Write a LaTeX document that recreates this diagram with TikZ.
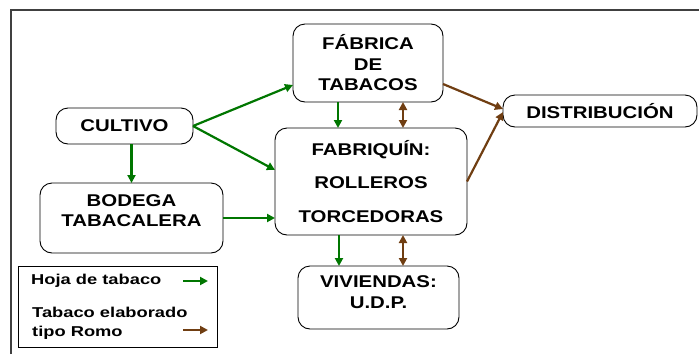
\documentclass[tikz,border=0pt]{standalone}
\usepackage{fontspec}
\usetikzlibrary{arrows.meta}
\newfontfamily\diagfont{Liberation Sans}[FakeStretch=1.2]
\newfontfamily\leyfont{Liberation Sans}[FakeStretch=1.28]
\definecolor{hojagreen}{RGB}{0,118,0}
\definecolor{romobrown}{RGB}{112,62,18}
\begin{document}
\begin{tikzpicture}[x=1pt,y=-1pt,
    caja/.style={draw, rounded corners=12pt, line width=0.9pt, inner sep=0pt, outer sep=0pt,
                 align=center, font=\diagfont\bfseries\fontsize{17}{20.5}\selectfont},
    hoja/.style={draw=hojagreen, line width=2.2pt, -{Triangle[length=8pt,width=8pt]}},
    romo/.style={draw=romobrown, line width=2.2pt, -{Triangle[length=8pt,width=8pt]}},
    romo2/.style={romo, {Triangle[length=8pt,width=8pt]}-{Triangle[length=8pt,width=8pt]}}]
    \useasboundingbox (0,0) rectangle (699,354);
    \coordinate (m1) at (11,354);
    \coordinate (m2) at (11,10);
    \coordinate (m3) at (699,10);
    \draw[line width=1.2pt, black!75] (m1) -- (m2) -- (m3);

    \node[caja, minimum width=137pt, minimum height=36pt] at (124.5,126) (cul) {CULTIVO};
    \node[caja, minimum width=150pt, minimum height=78pt] at (368,63) (fab) {FÁBRICA\\DE\\TABACOS};
    \node[caja, minimum width=194pt, minimum height=32pt] at (600,111) (dist) {DISTRIBUCIÓN};
    \node[caja, minimum width=192pt, minimum height=107pt] at (371,181.5) (frq) {FABRIQUÍN:\\[13pt]ROLLEROS\\[13pt]TORCEDORAS};
    \node[caja, minimum width=183pt, minimum height=70pt, text depth=15pt] at (131.5,218) (bod) {BODEGA\\TABACALERA};
    \node[caja, minimum width=161pt, minimum height=63pt, text depth=11pt] at (378.5,297.5) (viv) {VIVIENDAS:\\U.D.P.};

    \node[draw, line width=0.8pt, minimum width=199pt, minimum height=81pt] at (117.5,306.5) (ley) {};
    \node[anchor=base west, inner sep=0pt, font=\leyfont\bfseries\fontsize{14.3}{19}\selectfont] at (31,284) (t1) {Hoja de tabaco};
    \node[anchor=west, inner sep=0pt, align=left, font=\leyfont\bfseries\fontsize{14.3}{19}\selectfont] at (32,323) (t2) {Tabaco elaborado\\tipo Romo};
    \coordinate (h1) at (183,281);
    \coordinate (h2) at (208,281);
    \coordinate (r1) at (183,330);
    \coordinate (r2) at (208,330);
    \draw[hoja] (h1) -- (h2);
    \draw[romo] (r1) -- (r2);

    \draw[hoja] (cul.east) -- ([yshift=-22pt]fab.west);
    \draw[hoja] (cul.east) -- ([yshift=11.5pt]frq.west);
    \draw[hoja] (bod.north |- cul.south) -- (bod.north);
    \draw[hoja] (bod.east) -- (frq.west |- bod.east);
    \draw[hoja] ([xshift=-30pt]fab.south) -- ([xshift=-30pt]fab.south |- frq.north);
    \draw[romo2] ([xshift=35pt]fab.south) -- ([xshift=35pt]fab.south |- frq.north);
    \draw[romo] ([yshift=-21pt]fab.east) -- ([yshift=2pt]dist.west);
    \draw[romo] (frq.east) -- ([yshift=-1pt]dist.west);
    \draw[hoja] ([xshift=-32pt]frq.south) -- ([xshift=-32pt]frq.south |- viv.north);
    \draw[romo2] ([xshift=32pt]frq.south) -- ([xshift=32pt]frq.south |- viv.north);
\end{tikzpicture}
\end{document}
